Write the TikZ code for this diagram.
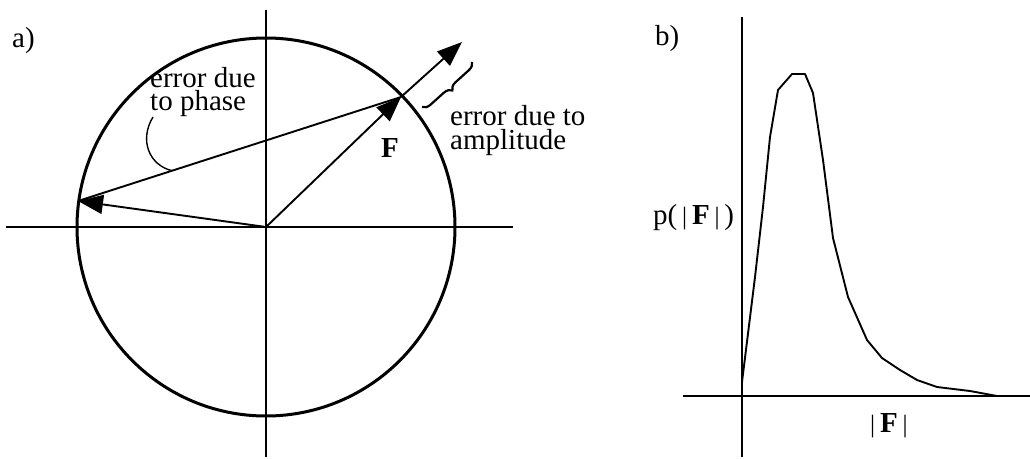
\documentclass[tikz,border=0pt]{standalone}
\usepackage{fontspec}
\setmainfont{Liberation Serif}
\usetikzlibrary{arrows.meta,decorations.pathreplacing,calc}
\tikzset{
  axis/.style={line width=2.8pt},
  ring/.style={line width=3pt},
  vec/.style={line width=1.9pt,-{Triangle[length=25pt,width=19pt]}},
  thin line/.style={line width=1.9pt},
  lbl/.style={inner sep=0pt,anchor=base west,font=\fontsize{29}{33}\selectfont},
  twoline/.style={inner sep=0pt,anchor=north west,align=left},
}
\newcommand{\vbar}{{\fontsize{25}{27}\selectfont|}}
\begin{document}
\begin{tikzpicture}[x=1pt,y=-1pt]
\useasboundingbox (0,0) rectangle (1030,458);
% ---------- panel a ----------
\coordinate (O) at (266,227);
\coordinate (axL) at (6,227);
\coordinate (axR) at (513,227);
\coordinate (axT) at (266,10);
\coordinate (axB) at (266,457);
\coordinate (Ftip) at (401,97);
\coordinate (Fp) at (78,201);
\coordinate (Aend) at (462,42);
\draw[axis] (axL) -- (axR);
\draw[axis] (axT) -- (axB);
\draw[ring] (O) circle[radius=189];
\draw[vec] (O) -- (Ftip);
\draw[vec] (Ftip) -- (Aend);
\draw[vec] (O) -- (Fp);
\draw[thin line] (Ftip) -- (Fp);
\coordinate (lead) at ($(Ftip)!0.709!(Fp)$);
\coordinate (leadS) at (153,117);
\draw[line width=1.4pt] (leadS) .. controls (139,140) and (149,165) .. (lead);
\coordinate (brA) at (472,62);
\coordinate (brB) at (422,107);
\draw[line width=2.2pt,decorate,decoration={brace,amplitude=8pt}] (brA) -- (brB);
\node[lbl] (la) at (12,47) {a)};
\node[twoline,font=\fontsize{29}{23}\selectfont] (ph) at (150,67) {error due\\to phase};
\node[twoline,font=\fontsize{29}{24}\selectfont] (am) at (450,105) {error due to\\amplitude};
\node[lbl,font=\fontsize{29}{33}\selectfont\bfseries] (Flab) at (381,157) {F};
% ---------- panel b ----------
\coordinate (bT) at (742,17);
\coordinate (bB) at (742,457);
\coordinate (bL) at (683,396);
\coordinate (bR) at (1030,396);
\draw[axis] (bT) -- (bB);
\draw[axis] (bL) -- (bR);
\draw[line width=1.9pt,line join=round]
  (742,382) -- (755,277) -- (763,207) -- (770,137) -- (778,90) -- (792,74)
  -- (805,74) -- (813,93) -- (823,160) -- (833,238) -- (848,297) -- (867,340)
  -- (882,358) -- (900,370) -- (917,380) -- (937,387) -- (970,391) -- (997,396);
\node[lbl] (lb) at (655,45) {b)};
\node[lbl] (py) at (653,224) {p(\,\vbar\,\textbf{F}\,\vbar\,)};
\node[lbl] (px) at (870,432) {\vbar\,\textbf{F}\,\vbar};
\end{tikzpicture}
\end{document}
